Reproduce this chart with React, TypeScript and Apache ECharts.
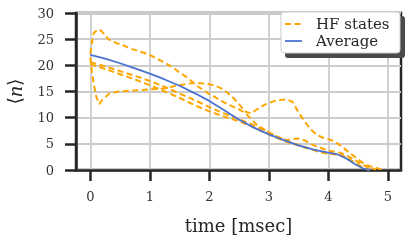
import React, { useEffect, useRef } from "react";
import * as echarts from "echarts";

const xTicks = [0, 1, 2, 3, 4, 5];

const hfATime = [0, 0.03, 0.06, 0.1, 0.15, 0.2, 0.25, 0.3, 0.37, 0.45, 0.54, 0.65, 0.76, 0.9, 1.05, 1.15, 1.27, 1.4, 1.5, 1.6, 1.7, 1.8, 1.9, 2.0, 2.1, 2.2, 2.3, 2.4, 2.5, 2.6, 2.7, 2.8, 2.9, 3.0, 3.1, 3.2, 3.3, 3.4, 3.5, 3.6, 3.7, 3.8, 3.9, 4.0, 4.1, 4.2, 4.3, 4.4, 4.5, 4.6, 4.7];
const hfAValue = [22.2, 24.5, 26.2, 26.6, 26.9, 26.4, 25.8, 25.0, 24.6, 24.2, 23.9, 23.3, 22.9, 22.4, 21.7, 21.1, 20.4, 19.5, 18.6, 17.9, 17.0, 16.0, 15.3, 14.5, 13.9, 13.2, 12.6, 12.1, 11.6, 10.9, 9.8, 8.6, 7.9, 7.2, 6.6, 6.1, 5.6, 5.2, 4.8, 4.4, 4.0, 3.6, 3.3, 3.1, 3.0, 2.8, 2.3, 1.6, 0.9, 0.3, 0];

const hfBTime = [0, 0.03, 0.06, 0.1, 0.15, 0.2, 0.26, 0.32, 0.4, 0.48, 0.6, 0.75, 0.88, 1.0, 1.15, 1.27, 1.4, 1.55, 1.7, 1.85, 2.0, 2.1, 2.2, 2.3, 2.4, 2.5, 2.6, 2.7, 2.8, 2.9, 3.0, 3.1, 3.2, 3.3, 3.4, 3.5, 3.6, 3.7, 3.8, 3.9, 4.0, 4.1, 4.2, 4.3, 4.4, 4.5, 4.6, 4.7, 4.8, 4.9];
const hfBValue = [21.5, 18.5, 16.4, 14.0, 12.6, 13.4, 14.0, 14.6, 14.8, 15.0, 15.1, 15.2, 15.3, 15.4, 15.5, 15.6, 16.0, 16.3, 16.6, 16.6, 16.4, 16.1, 15.6, 14.8, 13.8, 12.6, 11.2, 10.8, 11.6, 12.3, 12.8, 13.2, 13.4, 13.5, 13.0, 11.0, 9.3, 7.8, 6.8, 6.2, 5.9, 5.5, 4.7, 3.8, 2.9, 2.0, 1.2, 0.7, 0.4, 0.1];

const hfCTime = [0, 0.25, 0.5, 0.75, 1.0, 1.25, 1.5, 1.75, 2.0, 2.25, 2.5, 2.7, 2.85, 3.0, 3.15, 3.3, 3.4, 3.5, 3.6, 3.7, 3.8, 3.9, 4.0, 4.1, 4.2, 4.3, 4.4, 4.5, 4.6, 4.7, 4.8];
const hfCValue = [20.6, 19.8, 18.9, 18.0, 17.0, 15.9, 14.6, 13.4, 12.0, 10.8, 9.7, 8.8, 8.0, 7.2, 6.3, 5.7, 5.9, 6.0, 5.7, 5.0, 4.5, 4.1, 3.7, 3.5, 3.3, 2.8, 2.2, 1.5, 0.9, 0.4, 0.1];

const hfDTime = [0, 0.25, 0.5, 0.75, 1.0, 1.25, 1.5, 1.75, 2.0, 2.25, 2.5, 2.7, 2.85, 3.0, 3.2, 3.4, 3.6, 3.8, 4.0, 4.2, 4.3, 4.4, 4.5, 4.6, 4.7];
const hfDValue = [20.2, 19.3, 18.3, 17.3, 16.2, 15.0, 13.8, 12.4, 11.2, 10.2, 9.3, 8.4, 7.6, 6.8, 5.8, 5.0, 4.3, 3.7, 3.2, 2.9, 2.4, 1.7, 1.0, 0.4, 0];

const avgTime = [0, 0.25, 0.5, 0.75, 1.0, 1.25, 1.5, 1.75, 2.0, 2.25, 2.5, 2.75, 3.0, 3.25, 3.5, 3.75, 4.0, 4.15, 4.3, 4.45, 4.6, 4.7];
const avgValue = [22.0, 21.3, 20.4, 19.4, 18.4, 17.3, 16.1, 14.7, 13.2, 11.4, 9.6, 8.1, 6.8, 5.7, 4.7, 3.9, 3.3, 3.0, 2.2, 1.1, 0.2, 0];

const legendLabels = ["HF states", "Average"];

const FONT = "DejaVu Serif";
const ORANGE = "#ffa500";
const BLUE = "#4a72d4";
const DARK = "#262626";

export default function App() {
  const ref = useRef<HTMLDivElement>(null);
  useEffect(() => {
    const chart = echarts.init(ref.current!, undefined, { renderer: "svg" });
    const zip = (t: number[], v: number[]) => t.map((x, i) => [x, v[i]]);
    const hf = [
      [hfATime, hfAValue],
      [hfBTime, hfBValue],
      [hfCTime, hfCValue],
      [hfDTime, hfDValue],
    ].map(([t, v]) => ({
      type: "line",
      data: zip(t, v),
      showSymbol: false,
      symbol: "none",
      silent: true,
      lineStyle: { color: ORANGE, width: 2, type: [6, 3.5] },
    }));
    chart.setOption({
      animation: false,
      grid: {
        left: 76,
        top: 13,
        right: 6,
        bottom: 71,
        show: true,
        containLabel: false,
        outerBoundsMode: "none",
        borderColor: DARK,
        borderWidth: 2.5,
        backgroundColor: "transparent",
      },
      xAxis: {
        type: "value",
        min: -0.24,
        max: 5.22,
        name: "time [msec]",
        nameLocation: "middle",
        nameGap: 46,
        nameTextStyle: { fontFamily: FONT, fontSize: 18, color: DARK },
        axisLine: { show: true, onZero: false, lineStyle: { color: DARK, width: 2.5 } },
        axisTick: { show: true, length: 11, customValues: xTicks, lineStyle: { color: DARK, width: 2.5 } },
        axisLabel: {
          customValues: xTicks,
          margin: 20,
          fontFamily: FONT,
          fontSize: 13,
          color: "#333",
        },
        splitLine: { show: true, lineStyle: { color: "#cccccc", width: 1.8 } },
      },
      yAxis: {
        type: "value",
        min: 0,
        max: 30,
        interval: 5,
        name: "{a|⟨}{i|n}{a|⟩}",
        nameLocation: "middle",
        nameRotate: 90,
        nameGap: 51,
        nameTextStyle: {
          color: DARK,
          rich: {
            a: { fontFamily: "DejaVu Serif", fontSize: 19, color: DARK },
            i: { fontFamily: "Liberation Serif", fontStyle: "italic", fontSize: 22, color: DARK },
          },
        },
        axisLine: { show: true, onZero: false, lineStyle: { color: DARK, width: 2.5 } },
        axisTick: { show: true, length: 11, lineStyle: { color: DARK, width: 2.5 } },
        axisLabel: { margin: 22, fontFamily: FONT, fontSize: 13, color: "#333" },
        splitLine: { show: true, lineStyle: { color: "#cccccc", width: 1.8 } },
      },
      series: [
        ...hf,
        {
          type: "line",
          data: zip(avgTime, avgValue),
          showSymbol: false,
          symbol: "none",
          silent: true,
          lineStyle: { color: BLUE, width: 1.8 },
        },
      ],
      graphic: [
        {
          type: "rect",
          z: 10,
          shape: { x: 285, y: 16, width: 120, height: 42, r: 3 },
          style: { fill: "#4a4a4a" },
        },
        {
          type: "rect",
          z: 11,
          shape: { x: 281, y: 12, width: 119, height: 41, r: 3 },
          style: { fill: "#ffffff", stroke: "#cccccc", lineWidth: 1 },
        },
        {
          type: "line",
          z: 12,
          shape: { x1: 285, y1: 24, x2: 302, y2: 24 },
          style: { stroke: ORANGE, lineWidth: 2, lineDash: [6, 3.5] },
        },
        {
          type: "line",
          z: 12,
          shape: { x1: 285, y1: 41, x2: 302, y2: 41 },
          style: { stroke: BLUE, lineWidth: 1.8 },
        },
        {
          type: "text",
          z: 12,
          x: 316,
          y: 24,
          style: { text: legendLabels[0], font: `15px "${FONT}"`, fill: DARK, verticalAlign: "middle" },
        },
        {
          type: "text",
          z: 12,
          x: 316,
          y: 41,
          style: { text: legendLabels[1], font: `15px "${FONT}"`, fill: DARK, verticalAlign: "middle" },
        },
      ],
    });
    return () => chart.dispose();
  }, []);
  return <div ref={ref} style={{ position: "fixed", left: 0, top: 0, width: 407, height: 241 }} />;
}
